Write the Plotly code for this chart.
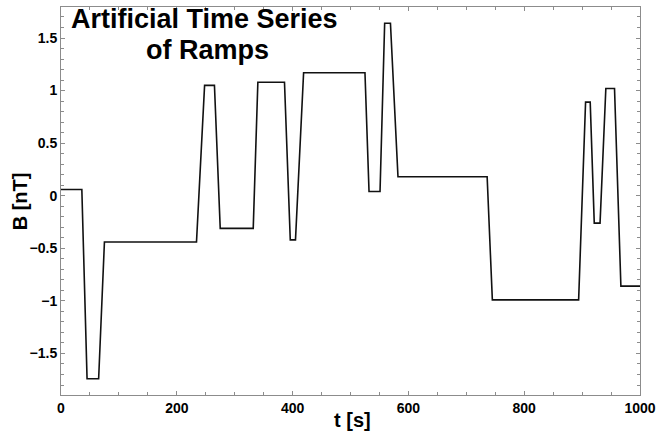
import plotly.graph_objects as go

# Time [s] of each ramp breakpoint and field values B [nT]
t_s = [0, 36, 45, 65, 75, 234, 248, 265, 275, 332, 340, 386, 396, 405, 419,
       525, 532, 551, 559, 569, 582, 736, 745, 894, 906, 914, 921, 931, 941,
       956, 967, 1000]
b_nT = [0.06, 0.06, -1.74, -1.74, -0.44, -0.44, 1.05, 1.05, -0.31, -0.31,
        1.08, 1.08, -0.42, -0.42, 1.17, 1.17, 0.04, 0.04, 1.64, 1.64, 0.18,
        0.18, -0.99, -0.99, 0.89, 0.89, -0.26, -0.26, 1.02, 1.02, -0.86, -0.86]

title_lines = ["Artificial Time Series", "of Ramps"]
x_title = "t [s]"
y_title = "B [nT]"

FONT = "Liberation Sans, Arial, Helvetica, sans-serif"
AXIS_COLOR = "#8c8c8c"

fig = go.Figure()
fig.add_trace(go.Scatter(
    x=t_s, y=b_nT, mode="lines",
    line=dict(color="#111111", width=1.6),
    showlegend=False, hoverinfo="x+y",
))

axis_common = dict(
    showgrid=False, zeroline=False, showline=True, linecolor=AXIS_COLOR,
    linewidth=1, mirror="ticks", ticks="inside", ticklen=4, tickcolor=AXIS_COLOR,
    tickfont=dict(family=FONT, size=14, color="black", weight="bold"),
    ticklabeloverflow="allow", automargin=False,
)

fig.update_layout(
    width=657, height=433,
    margin=dict(l=61, r=17, t=7, b=38),
    paper_bgcolor="white", plot_bgcolor="white",
    xaxis=dict(range=[0, 1000], dtick=200, tick0=0,
               minor=dict(dtick=50, ticks="inside", ticklen=3, tickcolor=AXIS_COLOR),
               **axis_common),
    yaxis=dict(range=[-1.895, 1.795], dtick=0.5, tick0=0,
               minor=dict(dtick=0.1, ticks="inside", ticklen=3, tickcolor=AXIS_COLOR),
               **axis_common),
)

annots = [
    dict(text=title_lines[0], x=0.247, y=0.9701, font_size=27),
    dict(text=title_lines[1], x=0.253, y=0.8902, font_size=27),
    dict(text=x_title, x=0.503, y=-0.0644, font_size=20),
    dict(text=y_title, x=-0.0716, y=0.498, font_size=20, textangle=-90),
]
for a in annots:
    fig.add_annotation(
        text=a["text"], x=a["x"], y=a["y"], xref="paper", yref="paper",
        xanchor="center", yanchor="middle", showarrow=False, borderpad=0,
        textangle=a.get("textangle", 0),
        font=dict(family=FONT, size=a["font_size"], color="black", weight="bold"),
    )

fig.write_html("out.html")
